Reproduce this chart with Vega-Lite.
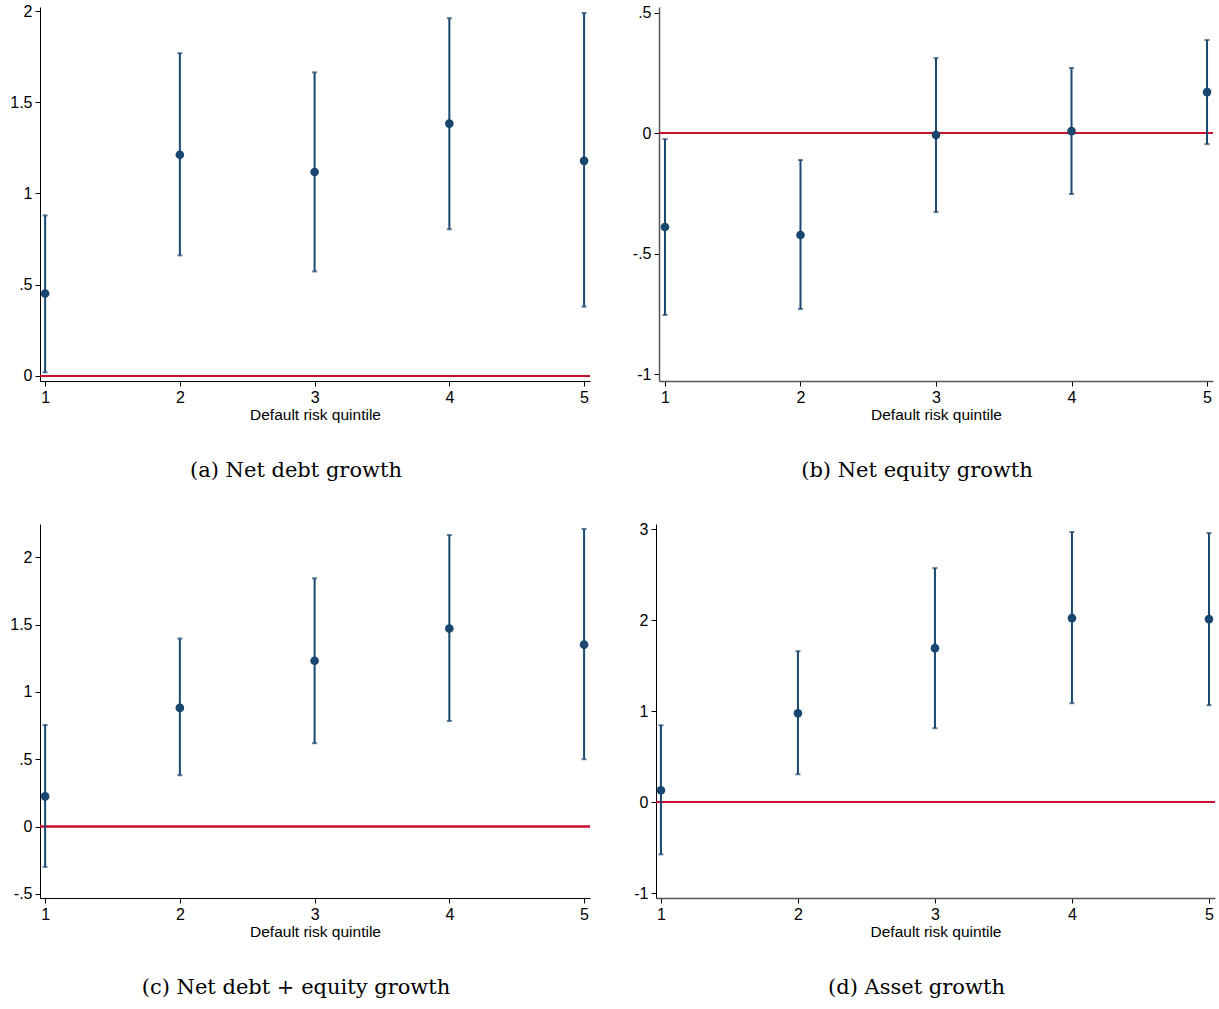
{
  "$schema": "https://vega.github.io/schema/vega-lite/v6.json",
  "padding": {"left": 9, "top": 3, "right": 5, "bottom": 5},
  "background": "white",
  "datasets": {
    "est": [
      {"panel": "a", "q": 1, "est": 0.452, "lo": 0.02, "hi": 0.88},
      {"panel": "a", "q": 2, "est": 1.212, "lo": 0.661, "hi": 1.769},
      {"panel": "a", "q": 3, "est": 1.118, "lo": 0.573, "hi": 1.664},
      {"panel": "a", "q": 4, "est": 1.383, "lo": 0.804, "hi": 1.961},
      {"panel": "a", "q": 5, "est": 1.179, "lo": 0.38, "hi": 1.989},
      {"panel": "b", "q": 1, "est": -0.39, "lo": -0.755, "hi": -0.025},
      {"panel": "b", "q": 2, "est": -0.423, "lo": -0.73, "hi": -0.112},
      {"panel": "b", "q": 3, "est": -0.008, "lo": -0.328, "hi": 0.311},
      {"panel": "b", "q": 4, "est": 0.008, "lo": -0.253, "hi": 0.27},
      {"panel": "b", "q": 5, "est": 0.17, "lo": -0.046, "hi": 0.386},
      {"panel": "c", "q": 1, "est": 0.224, "lo": -0.299, "hi": 0.754},
      {"panel": "c", "q": 2, "est": 0.881, "lo": 0.381, "hi": 1.396},
      {"panel": "c", "q": 3, "est": 1.231, "lo": 0.619, "hi": 1.843},
      {"panel": "c", "q": 4, "est": 1.47, "lo": 0.784, "hi": 2.164},
      {"panel": "c", "q": 5, "est": 1.351, "lo": 0.5, "hi": 2.209},
      {"panel": "d", "q": 1, "est": 0.132, "lo": -0.571, "hi": 0.846},
      {"panel": "d", "q": 2, "est": 0.978, "lo": 0.308, "hi": 1.659},
      {"panel": "d", "q": 3, "est": 1.692, "lo": 0.813, "hi": 2.571},
      {"panel": "d", "q": 4, "est": 2.022, "lo": 1.088, "hi": 2.967},
      {"panel": "d", "q": 5, "est": 2.011, "lo": 1.066, "hi": 2.956}
    ]
  },
  "vconcat": [
    {
      "hconcat": [
        {
          "width": 550, "height": 374,
          "data": {"name": "est"},
          "transform": [{"filter": "datum.panel === 'a'"}],
          "title": {"text": "(a) Net debt growth", "orient": "bottom", "anchor": "middle", "dx": -19, "offset": 37},
          "layer": [
            {"mark": {"type": "rule", "color": "#c8102e", "strokeWidth": 1.5}, "encoding": {"y": {"datum": 0, "type": "quantitative", "scale": {"domain": [-0.0275, 2.022], "nice": false, "zero": false}}}},
            {"mark": {"type": "rule", "color": "#1a476f", "strokeWidth": 2}, "encoding": {
              "x": {"field": "q", "type": "quantitative", "scale": {"domain": [0.962, 5.044], "nice": false, "zero": false}, "axis": {"values": [1, 2, 3, 4, 5], "format": "d", "title": "Default risk quintile"}},
              "y": {"field": "lo", "type": "quantitative", "title": null, "scale": {"domain": [-0.0275, 2.022], "nice": false, "zero": false}, "axis": {"values": [0, 0.5, 1, 1.5, 2], "labelExpr": "replace(toString(datum.value), '0.', '.')"}},
              "y2": {"field": "hi"}}},
            {"mark": {"type": "tick", "orient": "horizontal", "color": "#1a476f", "size": 5, "thickness": 2}, "encoding": {"x": {"field": "q", "type": "quantitative"}, "y": {"field": "lo", "type": "quantitative"}}},
            {"mark": {"type": "tick", "orient": "horizontal", "color": "#1a476f", "size": 5, "thickness": 2}, "encoding": {"x": {"field": "q", "type": "quantitative"}, "y": {"field": "hi", "type": "quantitative"}}},
            {"mark": {"type": "point", "filled": true, "opacity": 1, "color": "#1a476f", "size": 75}, "encoding": {"x": {"field": "q", "type": "quantitative"}, "y": {"field": "est", "type": "quantitative"}}}
          ]
        },
        {
          "width": 554, "height": 374,
          "data": {"name": "est"},
          "transform": [{"filter": "datum.panel === 'b'"}],
          "title": {"text": "(b) Net equity growth", "orient": "bottom", "anchor": "middle", "dx": -19, "offset": 37},
          "layer": [
            {"mark": {"type": "rule", "color": "#c8102e", "strokeWidth": 1.5}, "encoding": {"y": {"datum": 0, "type": "quantitative", "scale": {"domain": [-1.029, 0.523], "nice": false, "zero": false}}}},
            {"mark": {"type": "rule", "color": "#1a476f", "strokeWidth": 2}, "encoding": {
              "x": {"field": "q", "type": "quantitative", "scale": {"domain": [0.956, 5.044], "nice": false, "zero": false}, "axis": {"values": [1, 2, 3, 4, 5], "format": "d", "title": "Default risk quintile", "domainColor": "#555", "domainWidth": 1.5}},
              "y": {"field": "lo", "type": "quantitative", "title": null, "scale": {"domain": [-1.029, 0.523], "nice": false, "zero": false}, "axis": {"values": [-1, -0.5, 0, 0.5], "labelExpr": "replace(toString(datum.value), '0.', '.')", "domainColor": "#555", "domainWidth": 1.5}},
              "y2": {"field": "hi"}}},
            {"mark": {"type": "tick", "orient": "horizontal", "color": "#1a476f", "size": 5, "thickness": 2}, "encoding": {"x": {"field": "q", "type": "quantitative"}, "y": {"field": "lo", "type": "quantitative"}}},
            {"mark": {"type": "tick", "orient": "horizontal", "color": "#1a476f", "size": 5, "thickness": 2}, "encoding": {"x": {"field": "q", "type": "quantitative"}, "y": {"field": "hi", "type": "quantitative"}}},
            {"mark": {"type": "point", "filled": true, "opacity": 1, "color": "#1a476f", "size": 75}, "encoding": {"x": {"field": "q", "type": "quantitative"}, "y": {"field": "est", "type": "quantitative"}}}
          ]
        }
      ],
      "spacing": 41
    },
    {
      "hconcat": [
        {
          "width": 550, "height": 374,
          "data": {"name": "est"},
          "transform": [{"filter": "datum.panel === 'c'"}],
          "title": {"text": "(c) Net debt + equity growth", "orient": "bottom", "anchor": "middle", "dx": -19, "offset": 37},
          "layer": [
            {"mark": {"type": "rule", "color": "#c8102e", "strokeWidth": 1.5}, "encoding": {"y": {"datum": 0, "type": "quantitative", "scale": {"domain": [-0.53, 2.246], "nice": false, "zero": false}}}},
            {"mark": {"type": "rule", "color": "#1a476f", "strokeWidth": 2}, "encoding": {
              "x": {"field": "q", "type": "quantitative", "scale": {"domain": [0.962, 5.044], "nice": false, "zero": false}, "axis": {"values": [1, 2, 3, 4, 5], "format": "d", "title": "Default risk quintile"}},
              "y": {"field": "lo", "type": "quantitative", "title": null, "scale": {"domain": [-0.53, 2.246], "nice": false, "zero": false}, "axis": {"values": [-0.5, 0, 0.5, 1, 1.5, 2], "labelExpr": "replace(toString(datum.value), '0.', '.')"}},
              "y2": {"field": "hi"}}},
            {"mark": {"type": "tick", "orient": "horizontal", "color": "#1a476f", "size": 5, "thickness": 2}, "encoding": {"x": {"field": "q", "type": "quantitative"}, "y": {"field": "lo", "type": "quantitative"}}},
            {"mark": {"type": "tick", "orient": "horizontal", "color": "#1a476f", "size": 5, "thickness": 2}, "encoding": {"x": {"field": "q", "type": "quantitative"}, "y": {"field": "hi", "type": "quantitative"}}},
            {"mark": {"type": "point", "filled": true, "opacity": 1, "color": "#1a476f", "size": 75}, "encoding": {"x": {"field": "q", "type": "quantitative"}, "y": {"field": "est", "type": "quantitative"}}}
          ]
        },
        {
          "width": 559, "height": 374,
          "data": {"name": "est"},
          "transform": [{"filter": "datum.panel === 'd'"}],
          "title": {"text": "(d) Asset growth", "orient": "bottom", "anchor": "middle", "dx": -19, "offset": 37},
          "layer": [
            {"mark": {"type": "rule", "color": "#c8102e", "strokeWidth": 1.5}, "encoding": {"y": {"datum": 0, "type": "quantitative", "scale": {"domain": [-1.05, 3.055], "nice": false, "zero": false}}}},
            {"mark": {"type": "rule", "color": "#1a476f", "strokeWidth": 2}, "encoding": {
              "x": {"field": "q", "type": "quantitative", "scale": {"domain": [0.964, 5.044], "nice": false, "zero": false}, "axis": {"values": [1, 2, 3, 4, 5], "format": "d", "title": "Default risk quintile", "domainColor": "#555", "domainWidth": 1.5}},
              "y": {"field": "lo", "type": "quantitative", "title": null, "scale": {"domain": [-1.05, 3.055], "nice": false, "zero": false}, "axis": {"values": [-1, 0, 1, 2, 3], "labelExpr": "replace(toString(datum.value), '0.', '.')"}},
              "y2": {"field": "hi"}}},
            {"mark": {"type": "tick", "orient": "horizontal", "color": "#1a476f", "size": 5, "thickness": 2}, "encoding": {"x": {"field": "q", "type": "quantitative"}, "y": {"field": "lo", "type": "quantitative"}}},
            {"mark": {"type": "tick", "orient": "horizontal", "color": "#1a476f", "size": 5, "thickness": 2}, "encoding": {"x": {"field": "q", "type": "quantitative"}, "y": {"field": "hi", "type": "quantitative"}}},
            {"mark": {"type": "point", "filled": true, "opacity": 1, "color": "#1a476f", "size": 75}, "encoding": {"x": {"field": "q", "type": "quantitative"}, "y": {"field": "est", "type": "quantitative"}}}
          ]
        }
      ],
      "spacing": 42
    }
  ],
  "spacing": 40,
  "config": {
    "view": {"stroke": null},
    "title": {"font": "DejaVu Serif", "fontSize": 21, "fontWeight": "normal", "color": "#000"},
    "axis": {
      "grid": false,
      "labelFont": "Liberation Sans", "labelFontSize": 16, "labelColor": "#000",
      "titleFont": "Liberation Sans", "titleFontSize": 15.5, "titleFontWeight": "normal", "titleColor": "#000",
      "tickColor": "#000", "domainColor": "#000", "tickSize": 5, "labelPadding": 3, "titlePadding": 2
    }
  }
}
